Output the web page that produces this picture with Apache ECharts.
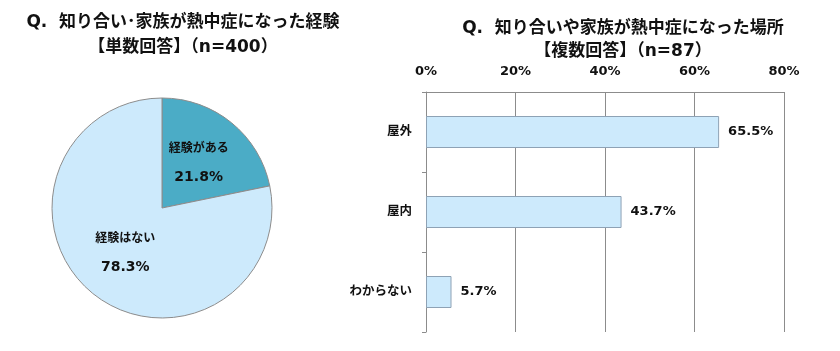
<!DOCTYPE html>
<html>
<head>
<meta charset="utf-8">
<script src="https://cdn.jsdelivr.net/npm/echarts@6/dist/echarts.min.js"></script>
<style>
  html, body { margin: 0; padding: 0; background: #fff; }
  #chart { width: 840px; height: 351px; }
</style>
</head>
<body>
<div id="chart"></div>
<script>
// left: single answer experience
let pieNames = ['経験がある', '経験はない']
let pieValues = [21.8, 78.3]
let pieColors = ['#4bacc6', '#cdeafc']

// right: multiple answer places
let places = ['屋外', '屋内', 'わからない']
let placeValues = [65.5, 43.7, 5.7]
let axisMax = 80
let axisStep = 20

const FONT = '"DejaVu Sans", "Noto Sans CJK JP", sans-serif'

let chart = echarts.init(document.getElementById('chart'))
let options = {
  animation: false,
  textStyle: { fontFamily: FONT },
  title: [
    {
      text: 'Q.  知り合い･家族が熱中症になった経験\n【単数回答】（n=400）',
      left: 178, top: 5, textAlign: 'center',
      textStyle: { fontSize: 17, fontWeight: 'bold', color: '#111', lineHeight: 25, fontFamily: FONT }
    },
    {
      text: 'Q.  知り合いや家族が熱中症になった場所\n【複数回答】（n=87）',
      left: 618, top: 12, textAlign: 'center',
      textStyle: { fontSize: 17, fontWeight: 'bold', color: '#111', lineHeight: 23, fontFamily: FONT }
    }
  ],
  grid: { left: 426, right: 56, top: 92, bottom: 19 },
  xAxis: {
    type: 'value',
    position: 'top',
    min: 0, max: axisMax, interval: axisStep,
    axisLine: { show: true, lineStyle: { color: '#8c8c8c' } },
    axisTick: { show: false },
    splitLine: { show: true, lineStyle: { color: '#8c8c8c' } },
    axisLabel: {
      formatter: '{value}%', margin: 14,
      fontSize: 13, fontWeight: 'bold', color: '#111', fontFamily: FONT
    }
  },
  yAxis: {
    type: 'category',
    inverse: true,
    data: places,
    axisLine: { show: true, lineStyle: { color: '#8c8c8c' } },
    axisTick: { show: true, length: 4, lineStyle: { color: '#8c8c8c' } },
    axisLabel: { margin: 14, fontSize: 12.5, fontWeight: 'bold', color: '#111', fontFamily: FONT }
  },
  series: [
    {
      type: 'pie',
      center: [162, 208],
      radius: 110,
      startAngle: 90,
      clockwise: true,
      data: pieNames.map((n, i) => ({ name: n, value: pieValues[i], itemStyle: { color: pieColors[i] } })),
      itemStyle: { borderColor: '#8c8c8c', borderWidth: 1 },
      label: {
        position: 'inside',
        formatter: '{n|{b}}\n{v|{c}%}',
        color: '#111', fontFamily: FONT,
        rich: {
          n: { fontSize: 12, fontWeight: 'bold', lineHeight: 28, fontFamily: FONT, color: '#111' },
          v: { fontSize: 14, fontWeight: 'bold', lineHeight: 28, fontFamily: FONT, color: '#111' }
        }
      },
      labelLine: { show: false },
      emphasis: { disabled: true }
    },
    {
      type: 'bar',
      data: placeValues,
      barWidth: 32,
      itemStyle: { color: '#cdeafc', borderColor: '#8ea2b5', borderWidth: 1 },
      label: {
        show: true, position: 'right', distance: 9,
        formatter: '{c}%',
        fontSize: 13, fontWeight: 'bold', color: '#111', fontFamily: FONT
      }
    }
  ]
}
chart.setOption(options)
</script>
</body>
</html>
